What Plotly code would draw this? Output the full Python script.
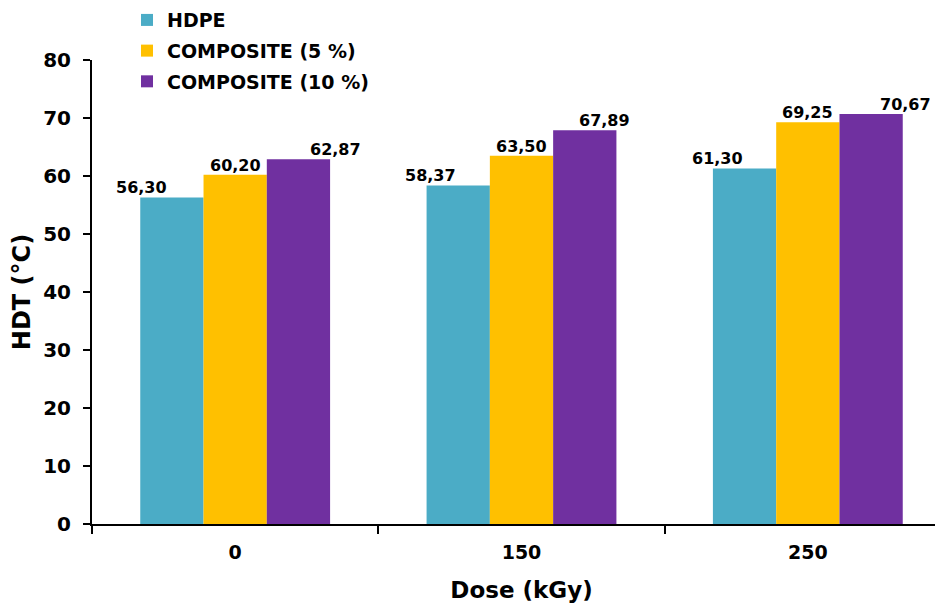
import plotly.graph_objects as go

doses = ["0", "150", "250"]
hdpe = [56.30, 58.37, 61.30]
comp5 = [60.20, 63.50, 69.25]
comp10 = [62.87, 67.89, 70.67]
series_names = ["HDPE", "COMPOSITE (5 %)", "COMPOSITE (10 %)"]
colors = ["#4BACC6", "#FFC000", "#7030A0"]

# label horizontal nudges (px), per series per dose
label_xshift = [[-30, -28, -27], [0, 0, 0], [37, 20, 34]]

FONT = "Verdana, DejaVu Sans, sans-serif"
BARGAP = 0.337
PLOT_W = 859

fig = go.Figure()
all_vals = [hdpe, comp5, comp10]
for name, vals, col in zip(series_names, all_vals, colors):
    fig.add_trace(go.Bar(x=doses, y=vals, name=name, marker_color=col,
                         marker_line_width=0, legendgroup=name))

nser = len(all_vals)
w = (1 - BARGAP) / nser
for j, vals in enumerate(all_vals):
    for i, v in enumerate(vals):
        fig.add_annotation(x=i + (j - (nser - 1) / 2) * w, y=v,
                           text=f"{v:.2f}".replace(".", ","),
                           showarrow=False, yanchor="bottom",
                           xshift=label_xshift[j][i], yshift=-2,
                           font=dict(family=FONT, size=16, color="black", weight=700))

fig.update_layout(
    width=84 + PLOT_W, height=595,
    margin=dict(l=84, r=0, t=52, b=79, autoexpand=False),
    plot_bgcolor="white", paper_bgcolor="white",
    barmode="group", bargap=BARGAP, bargroupgap=0,
    font=dict(family=FONT, color="black", weight=700),
    showlegend=True,
    legend=dict(x=(119 - 84) / PLOT_W, y=1.127,
                xanchor="left", yanchor="top",
                font=dict(size=19, family=FONT, weight=700),
                tracegroupgap=3, bgcolor="rgba(0,0,0,0)"),
)
fig.update_yaxes(range=[0, 80], dtick=10, showgrid=False, zeroline=False,
                 showline=True, linecolor="black", linewidth=2,
                 ticks="outside", ticklen=7, tickwidth=2, tickcolor="black",
                 ticklabelstandoff=8,
                 tickfont=dict(size=20, family=FONT, weight=700),
                 title=dict(text="HDT (°C)", font=dict(size=24, family=FONT, weight=700),
                            standoff=8))
fig.update_xaxes(type="category", showgrid=False, showline=True,
                 linecolor="black", linewidth=2,
                 ticks="outside", tickson="boundaries", ticklen=8, tickwidth=2,
                 tickcolor="black", ticklabelstandoff=10,
                 tickfont=dict(size=19, family=FONT, weight=700),
                 title=dict(text="Dose (kGy)", font=dict(size=23, family=FONT, weight=700),
                            standoff=24))

fig.write_html("out.html")
